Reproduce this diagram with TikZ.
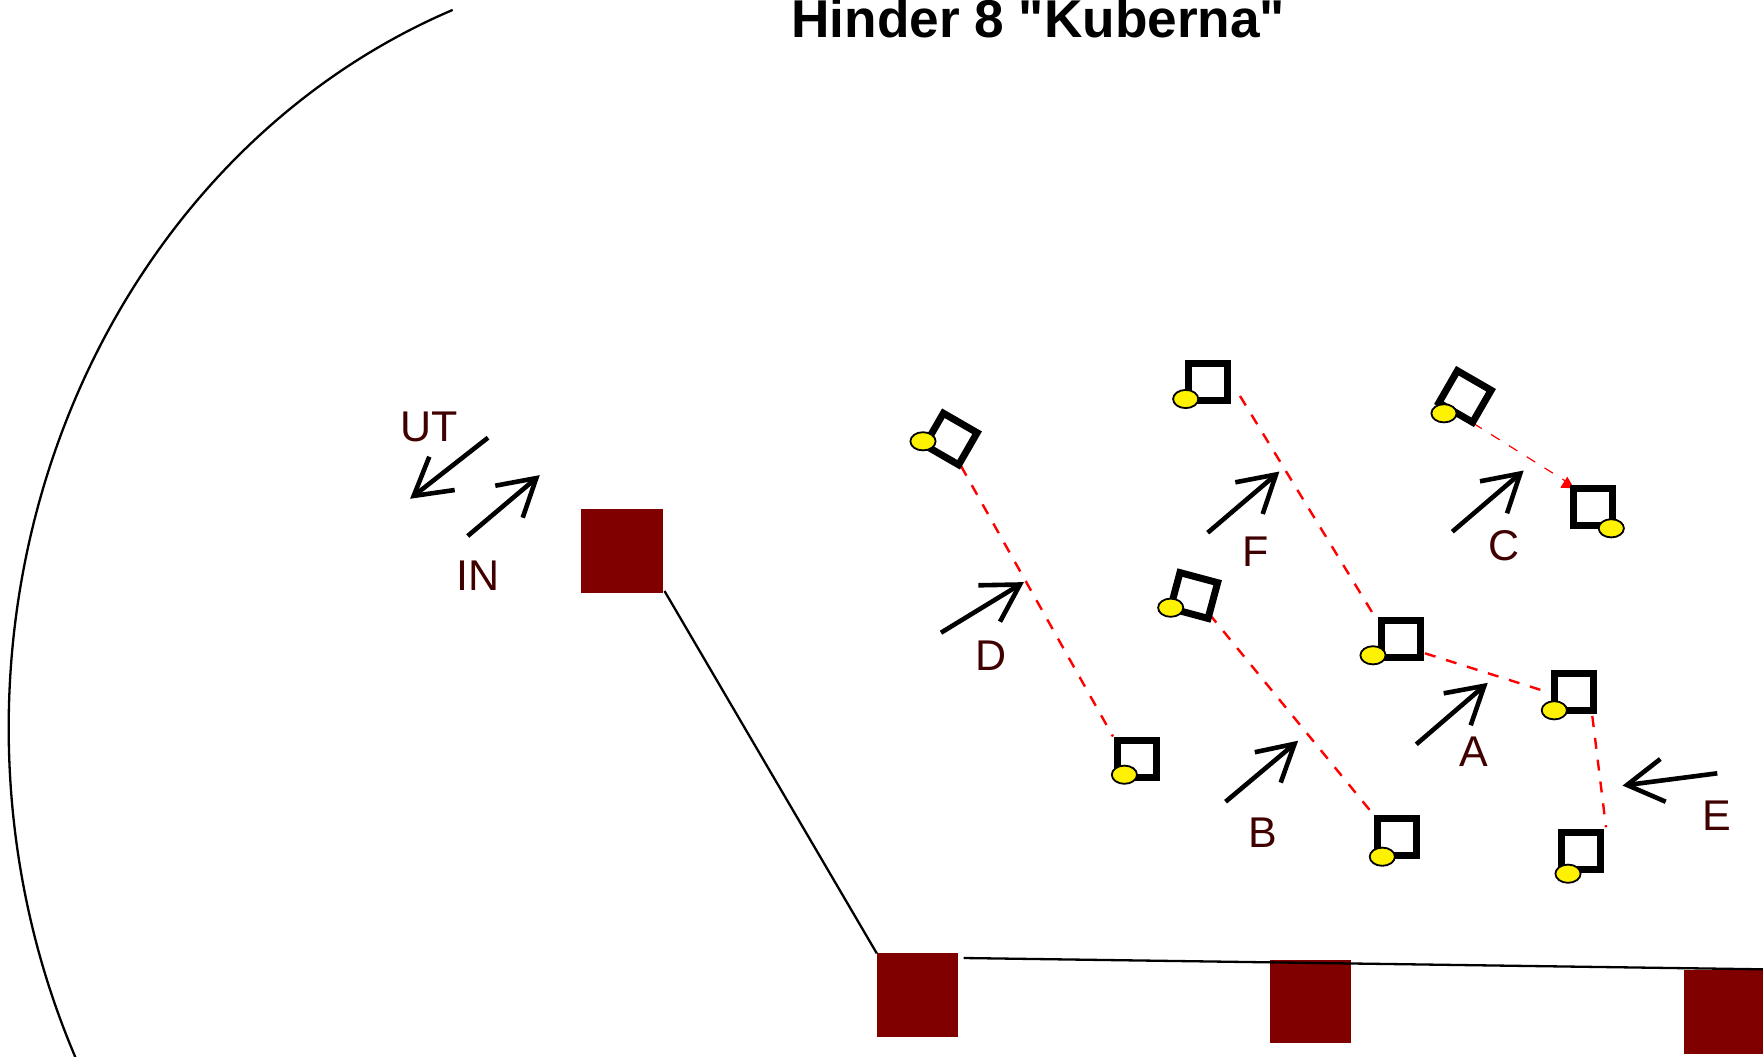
\documentclass[tikz,border=0pt]{standalone}
\usepackage{fontspec}
\setmainfont[Ligatures=TeXOff]{Liberation Sans}
\usetikzlibrary{shapes.geometric}
\definecolor{brick}{HTML}{800000}
\definecolor{labelc}{HTML}{400000}
\tikzset{
  sq/.style={draw=black,line width=3.5pt,fill=none,rectangle,inner sep=0pt,outer sep=0pt,minimum width=19.5pt,minimum height=18.5pt},
  dot/.style={draw=black,line width=0.9pt,fill=yellow,ellipse,inner sep=0pt,outer sep=0pt,minimum width=12.6pt,minimum height=9.1pt},
  block/.style={fill=brick,rectangle,inner sep=0pt,outer sep=0pt,minimum width=40.7pt,minimum height=41.6pt},
  wall/.style={draw=black,line width=1.15pt},
  link/.style={draw=red,line width=1.2pt,dash pattern=on 5.5pt off 5.5pt},
  thinlink/.style={draw=red,line width=0.6pt,dash pattern=on 5pt off 5.5pt},
  wind/.style={draw=black,line width=2.3pt},
  lab/.style={text=labelc,font=\fontsize{21.5}{21.5}\selectfont,anchor=base,inner sep=0pt},
}
\newcommand{\openarrow}[5]{%
  \coordinate (#1t) at (#2); \coordinate (#1p) at (#3);
  \coordinate (#1a) at (#4); \coordinate (#1b) at (#5);
  \draw[wind] (#1t) -- (#1p);
  \draw[wind] (#1a) -- (#1p) -- (#1b);
}
\begin{document}
\begin{tikzpicture}[x=0.5pt,y=-0.5pt]
\clip (0,0) rectangle (1763,1056);
\fill[white] (0,0) rectangle (1763,1056);
% arc
\coordinate (arcstart) at (452.7,9.9);
\draw[wall] (arcstart) arc[start angle=249,end angle=150,x radius=692,y radius=769];
% title
\node[anchor=base,inner sep=0pt,font=\bfseries\fontsize{26.6}{26.6}\selectfont] (title) at (1038.3,37.7) {Hinder 8 "Kuberna"};
% brick blocks
\node[block] (b1) at (622,551) {};
\node[block] (b2) at (917.5,995) {};
\node[block] (b3) at (1310.3,1001.6) {};
\node[block] (b4) at (1725,1012) {};
\coordinate (wallbend) at (664.5,591);
\coordinate (wallstart) at (963.6,958);
\coordinate (wallend) at (1763,969.3);
\draw[wall] (wallbend) -- (b2.north west);
\draw[wall] (wallstart) -- (wallend);
% red links
\coordinate (d1) at (961,466);   \coordinate (d2) at (1113,736.5);
\coordinate (f1) at (1240,396);  \coordinate (f2) at (1375,617);
\coordinate (g1) at (1209.3,614);\coordinate (g2) at (1377.3,819.3);
\coordinate (a1) at (1425,653.3);\coordinate (a2) at (1548.3,692.3);
\coordinate (e1) at (1592.3,716);\coordinate (e2) at (1606,827.3);
\coordinate (c1) at (1473.3,423.3);\coordinate (c2) at (1567,482);
\draw[link] (d1) -- (d2);
\draw[link] (f1) -- (f2);
\draw[link] (g1) -- (g2);
\draw[link] (a1) -- (a2);
\draw[link] (e1) -- (e2);
\draw[thinlink] (c1) -- (c2);
\fill[red] (1567.3,476.7) -- (1560.3,487.7) -- (1574,488.3) -- cycle;
% squares
\node[sq,rotate=-30] (sD) at (951,439) {};
\node[dot] (yD) at (923,441.3) {};
\node[sq] (sF) at (1207.5,382) {};
\node[dot] (yF) at (1185.7,399) {};
\node[sq,rotate=-15] (sB) at (1194,595.5) {};
\node[dot] (yB) at (1170.7,607.7) {};
\node[sq,rotate=-30] (sC) at (1465,396.5) {};
\node[dot] (yC) at (1444,413.3) {};
\node[sq] (sC2) at (1593.2,507.2) {};
\node[dot] (yC2) at (1611.3,528.3) {};
\node[sq] (sA) at (1400.7,638.7) {};
\node[dot] (yA) at (1373,655.3) {};
\node[sq] (sA2) at (1573.7,691.7) {};
\node[dot] (yA2) at (1554.3,710.3) {};
\node[sq] (sE) at (1581,851.2) {};
\node[dot] (yE) at (1568,873.7) {};
\node[sq] (sB2) at (1397,837.3) {};
\node[dot] (yB2) at (1382.3,856.7) {};
\node[sq] (sD2) at (1137,759) {};
\node[dot] (yD2) at (1124.4,774.7) {};
% arrows
\openarrow{wd}{941,632.7}{1020,584.5}{978.3,585.3}{1000,621.7}
\openarrow{wf}{1207.7,532.7}{1276,474.5}{1235.3,482.3}{1262.7,514}
\openarrow{wc}{1452.3,531.7}{1520.3,473.5}{1480,481.3}{1507,513.3}
\openarrow{wa}{1416.3,744.3}{1484.3,685.8}{1443.7,693.3}{1470.7,725.3}
\openarrow{we}{1717.3,773.3}{1627,785}{1660.3,759}{1665.7,801.7}
\openarrow{wb}{1225.6,801.7}{1294.6,743.8}{1254.8,752.2}{1280.7,782.6}
\openarrow{wu}{488,437.7}{413.7,495.9}{429.3,456.7}{454.7,490}
\openarrow{wi}{467.7,536}{536.3,478.1}{495.3,485.7}{522.7,517.7}
% labels
\node[lab] (lF) at (1256,566.7) {F};
\node[lab] (lC) at (1504,560) {C};
\node[lab] (lA) at (1474.3,766.7) {A};
\node[lab] (lE) at (1717.3,830.3) {E};
\node[lab] (lU) at (429.3,441) {UT};
\node[lab] (lI) at (477.7,590.7) {IN};
\node[lab] (lD) at (990.6,670) {D};
\node[lab] (lB) at (1262.7,847) {B};
\end{tikzpicture}
\end{document}
